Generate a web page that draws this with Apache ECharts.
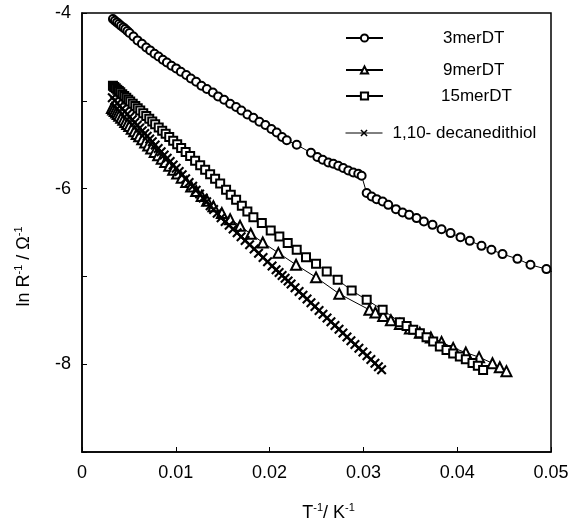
<!DOCTYPE html>
<html>
<head>
<meta charset="utf-8">
<script src="https://cdn.jsdelivr.net/npm/echarts@6/dist/echarts.min.js"></script>
<style>html,body{margin:0;padding:0;background:#fff;}#c{width:574px;height:522px;}</style>
</head>
<body>
<div id="c"></div>
<script>
// 3merDT (circles)
const x3mer = [0.00330,0.00351,0.00373,0.00394,0.00415,0.00440,0.00461,0.00484,0.00507,0.00549,0.00592,0.00639,0.00685,0.00727,0.00773,0.00816,0.00862,0.00905,0.00954,0.01004,0.01054,0.01111,0.01161,0.01217,0.01273,0.01331,0.01395,0.01451,0.01515,0.01579,0.01643,0.01699,0.01763,0.01827,0.01891,0.01955,0.02019,0.02076,0.02133,0.02183,0.02289,0.02441,0.02509,0.02566,0.02626,0.02679,0.02732,0.02785,0.02839,0.02892,0.02945,0.02981,0.03035,0.03088,0.03141,0.03205,0.03265,0.03347,0.03418,0.03488,0.03567,0.03645,0.03737,0.03833,0.03929,0.04035,0.04134,0.04259,0.04365,0.04483,0.04642,0.04781,0.04951,0.05090];
const y3mer = [-4.068,-4.088,-4.107,-4.125,-4.145,-4.164,-4.182,-4.205,-4.228,-4.267,-4.312,-4.350,-4.392,-4.426,-4.464,-4.495,-4.532,-4.563,-4.601,-4.631,-4.669,-4.707,-4.745,-4.783,-4.829,-4.866,-4.905,-4.950,-4.988,-5.034,-5.071,-5.110,-5.156,-5.193,-5.239,-5.276,-5.322,-5.361,-5.413,-5.450,-5.501,-5.592,-5.641,-5.672,-5.703,-5.717,-5.740,-5.766,-5.794,-5.817,-5.831,-5.854,-6.051,-6.090,-6.120,-6.147,-6.185,-6.234,-6.272,-6.299,-6.336,-6.375,-6.413,-6.462,-6.507,-6.553,-6.595,-6.652,-6.697,-6.746,-6.800,-6.868,-6.917,-6.980];
// 9merDT (triangles)
const x9mer = [0.00319,0.00333,0.00349,0.00365,0.00381,0.00397,0.00418,0.00440,0.00461,0.00482,0.00504,0.00530,0.00557,0.00583,0.00610,0.00642,0.00674,0.00706,0.00738,0.00775,0.00812,0.00850,0.00887,0.00930,0.00972,0.01015,0.01063,0.01111,0.01164,0.01217,0.01276,0.01334,0.01401,0.01491,0.01579,0.01685,0.01799,0.01927,0.02093,0.02282,0.02495,0.02743,0.03064,0.03128,0.03211,0.03293,0.03389,0.03496,0.03602,0.03719,0.03833,0.03957,0.04092,0.04233,0.04376,0.04454,0.04525];
const y9mer = [-5.083,-5.099,-5.116,-5.134,-5.151,-5.169,-5.193,-5.217,-5.241,-5.264,-5.288,-5.317,-5.347,-5.377,-5.405,-5.439,-5.474,-5.508,-5.542,-5.582,-5.621,-5.659,-5.698,-5.741,-5.785,-5.828,-5.876,-5.924,-5.976,-6.027,-6.084,-6.139,-6.202,-6.279,-6.348,-6.424,-6.515,-6.614,-6.732,-6.868,-7.011,-7.199,-7.381,-7.412,-7.450,-7.499,-7.541,-7.592,-7.643,-7.695,-7.746,-7.814,-7.868,-7.920,-7.989,-8.034,-8.079];
// 15merDT (squares)
const x15mer = [0.00330,0.00344,0.00360,0.00376,0.00392,0.00408,0.00429,0.00450,0.00472,0.00493,0.00514,0.00541,0.00568,0.00594,0.00621,0.00653,0.00685,0.00717,0.00749,0.00780,0.00818,0.00855,0.00892,0.00930,0.00972,0.01015,0.01057,0.01105,0.01153,0.01206,0.01260,0.01313,0.01366,0.01419,0.01473,0.01536,0.01586,0.01643,0.01704,0.01763,0.01827,0.01917,0.02012,0.02104,0.02193,0.02289,0.02388,0.02495,0.02609,0.02726,0.02875,0.03035,0.03205,0.03389,0.03460,0.03531,0.03602,0.03673,0.03744,0.03815,0.03886,0.03957,0.04028,0.04092,0.04163,0.04220,0.04276];
const y15mer = [-4.829,-4.842,-4.857,-4.873,-4.889,-4.904,-4.925,-4.946,-4.966,-4.987,-5.007,-5.034,-5.060,-5.086,-5.111,-5.143,-5.174,-5.205,-5.236,-5.267,-5.304,-5.340,-5.376,-5.412,-5.454,-5.495,-5.537,-5.583,-5.630,-5.682,-5.733,-5.786,-5.837,-5.888,-5.941,-6.014,-6.071,-6.128,-6.196,-6.261,-6.325,-6.393,-6.477,-6.546,-6.621,-6.697,-6.781,-6.857,-6.945,-7.039,-7.161,-7.267,-7.381,-7.521,-7.564,-7.609,-7.647,-7.692,-7.742,-7.799,-7.837,-7.877,-7.911,-7.945,-7.985,-8.019,-8.065];
// 1,10- decanedithiol (crosses)
const xDec = [0.00323,0.00349,0.00376,0.00402,0.00429,0.00456,0.00482,0.00509,0.00536,0.00562,0.00589,0.00615,0.00642,0.00669,0.00695,0.00722,0.00749,0.00780,0.00812,0.00844,0.00876,0.00908,0.00940,0.00972,0.01004,0.01036,0.01068,0.01105,0.01142,0.01180,0.01217,0.01254,0.01292,0.01329,0.01366,0.01403,0.01441,0.01483,0.01526,0.01569,0.01611,0.01654,0.01696,0.01739,0.01787,0.01835,0.01882,0.01930,0.01978,0.02026,0.02069,0.02101,0.02133,0.02165,0.02197,0.02229,0.02271,0.02314,0.02356,0.02399,0.02441,0.02484,0.02527,0.02569,0.02612,0.02654,0.02697,0.02740,0.02782,0.02825,0.02867,0.02910,0.02952,0.02995,0.03038,0.03080,0.03123,0.03160,0.03194];
const yDec = [-4.965,-4.997,-5.028,-5.059,-5.091,-5.122,-5.153,-5.185,-5.216,-5.247,-5.279,-5.310,-5.341,-5.373,-5.404,-5.435,-5.467,-5.504,-5.542,-5.580,-5.617,-5.655,-5.692,-5.730,-5.768,-5.805,-5.843,-5.887,-5.931,-5.974,-6.018,-6.062,-6.106,-6.150,-6.194,-6.238,-6.281,-6.332,-6.375,-6.418,-6.461,-6.504,-6.547,-6.590,-6.639,-6.687,-6.736,-6.784,-6.832,-6.881,-6.924,-6.956,-6.989,-7.021,-7.053,-7.086,-7.129,-7.172,-7.215,-7.258,-7.301,-7.344,-7.387,-7.430,-7.473,-7.516,-7.559,-7.602,-7.645,-7.689,-7.732,-7.775,-7.818,-7.861,-7.904,-7.947,-7.990,-8.028,-8.062];

const seriesNames = ['3merDT', '9merDT', '15merDT', '1,10- decanedithiol'];
const xTicks = [0, 0.01, 0.02, 0.03, 0.04, 0.05];
const yLabelled = [-4, -6, -8];

function zip(xs, ys) {
  const n = Math.min(xs.length, ys.length);
  const out = [];
  for (let i = 0; i < n; i++) out.push([xs[i], ys[i]]);
  return out;
}

const FONT = 'Liberation Sans, Arial, sans-serif';
const crossPath = 'path://M0,1.5L1.5,0L5,3.5L8.5,0L10,1.5L6.5,5L10,8.5L8.5,10L5,6.5L1.5,10L0,8.5L3.5,5Z';

const chart = echarts.init(document.getElementById('c'), null, {renderer: 'canvas'});

function legendAt(item, top, padLeft) {
  return {
    data: [item], left: 345, top: top, orient: 'horizontal',
    itemWidth: 37, itemHeight: 9, itemGap: 0, selectedMode: false, padding: 0,
    textStyle: {fontSize: 17, fontFamily: FONT, color: '#000', lineHeight: 18, padding: [0, 0, 0, padLeft]}
  };
}

const lineBase = {type: 'line', clip: true, animation: false, lineStyle: {color: '#000', width: 1}};

chart.setOption({
  animation: false,
  backgroundColor: '#fff',
  grid: {left: 82, top: 13, width: 469, height: 439, show: true, borderColor: '#000', borderWidth: 1.5,
    backgroundColor: 'transparent', containLabel: false, outerBoundsMode: 'none'},
  xAxis: {
    type: 'value', min: xTicks[0], max: xTicks[xTicks.length - 1], interval: 0.01,
    axisLine: {show: true, onZero: false, lineStyle: {color: '#000', width: 1.5}},
    axisTick: {show: true, inside: true, length: 5, lineStyle: {color: '#000', width: 1}},
    splitLine: {show: false},
    axisLabel: {color: '#000', fontSize: 18, fontFamily: FONT, margin: 12,
      formatter: v => (Math.abs(v) < 1e-9 ? '0' : v.toFixed(2))},
    name: 'T{s|-1}/ K{s|-1}', nameLocation: 'middle', nameGap: 50,
    nameTextStyle: {color: '#000', fontSize: 18, fontFamily: FONT, lineHeight: 22, padding: [0, 0, 0, 24],
      rich: {s: {fontSize: 11, fontFamily: FONT, color: '#000', verticalAlign: 'top', lineHeight: 12}}}
  },
  yAxis: {
    type: 'value', min: -9, max: -4, interval: 1,
    axisLine: {show: true, onZero: false, lineStyle: {color: '#000', width: 1.5}},
    axisTick: {show: true, inside: true, length: 5, lineStyle: {color: '#000', width: 1}},
    splitLine: {show: false},
    axisLabel: {color: '#000', fontSize: 18, fontFamily: FONT, margin: 11,
      formatter: v => (yLabelled.indexOf(Math.round(v)) >= 0 ? String(Math.round(v)) : '')},
    name: 'ln R{s|-1} / Ω{s|-1}', nameLocation: 'middle', nameGap: 47,
    nameTextStyle: {color: '#000', fontSize: 18, fontFamily: FONT, lineHeight: 22, padding: [0, 68, 0, 0],
      rich: {s: {fontSize: 11, fontFamily: FONT, color: '#000', verticalAlign: 'top', lineHeight: 12}}}
  },
  legend: [
    legendAt(seriesNames[0], 29, 55),
    legendAt(seriesNames[1], 61, 55),
    legendAt(seriesNames[2], 87, 53),
    legendAt({name: seriesNames[3], lineStyle: {width: 1, color: '#000'}}, 124, 5)
  ],
  series: [
    Object.assign({}, lineBase, {name: seriesNames[0], data: zip(x3mer, y3mer), symbol: 'emptyCircle', symbolSize: 8,
      itemStyle: {color: '#000', borderColor: '#000', borderWidth: 1.1}, z: 2}),
    Object.assign({}, lineBase, {name: seriesNames[1], data: zip(x9mer, y9mer), symbol: 'emptyTriangle', symbolSize: 10,
      itemStyle: {color: '#000', borderColor: '#000', borderWidth: 1.2}, z: 3}),
    Object.assign({}, lineBase, {name: seriesNames[2], data: zip(x15mer, y15mer), symbol: 'emptyRect', symbolSize: 8,
      itemStyle: {color: '#000', borderColor: '#000', borderWidth: 1.2}, z: 4}),
    Object.assign({}, lineBase, {name: seriesNames[3], data: zip(xDec, yDec), symbol: crossPath, symbolSize: 10,
      lineStyle: {color: '#000', width: 2.5},
      itemStyle: {color: '#000', borderWidth: 0}, z: 5})
  ]
});
</script>
</body>
</html>
